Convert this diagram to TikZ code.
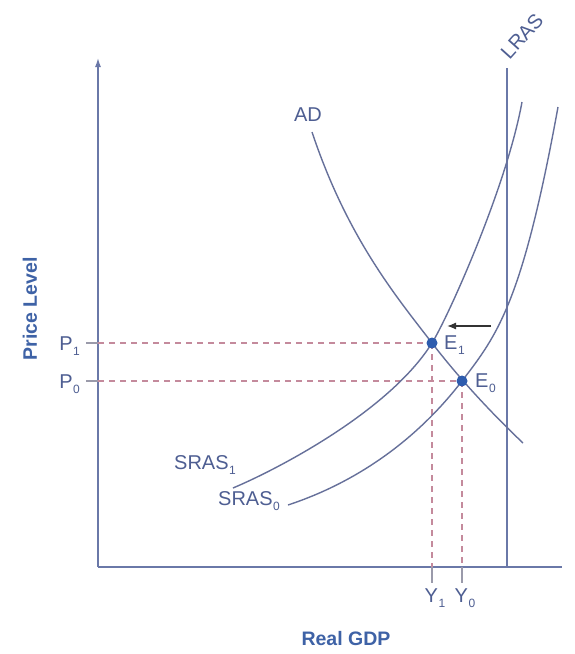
\documentclass[tikz,border=0pt]{standalone}
\usepackage{fontspec}
\setmainfont{Liberation Sans}
\usetikzlibrary{arrows.meta}
\definecolor{axisc}{HTML}{6A78A8}
\definecolor{curvec}{HTML}{66709A}
\definecolor{txtc}{HTML}{4E5E92}
\definecolor{titc}{HTML}{3E62A6}
\definecolor{dashc}{HTML}{C48A9C}
\definecolor{dotc}{HTML}{2E5CAE}
\definecolor{tickc}{HTML}{9A9AAA}
\newcommand{\lowsub}[1]{\kern0.5pt\raisebox{-5pt}{\fontsize{12}{12}\selectfont #1}}
\tikzset{
  axisline/.style={draw=axisc, line width=1.4pt},
  curve/.style={draw=curvec, line width=1.4pt},
  guide/.style={draw=dashc, line width=1.1pt, dash pattern=on 6pt off 5pt},
  lbl/.style={text=txtc, font=\fontsize{20}{22}\selectfont, inner sep=0pt},
  title/.style={text=titc, font=\bfseries\fontsize{19.5}{22}\selectfont, inner sep=0pt},
  eqdot/.style={circle, fill=dotc, minimum size=11pt, inner sep=0pt},
}
\begin{document}
\begin{tikzpicture}[x=1pt, y=-1pt]
\useasboundingbox[fill=white] (0,0) rectangle (574,654);
% axes
\coordinate (O) at (98,567);
\coordinate (Ytop) at (98,58);
\coordinate (Xend) at (562,567);
\draw[axisline, -{Latex[length=9pt,width=6pt]}] (O) -- (Ytop);
\draw[axisline] (O) -- (Xend);
% LRAS
\coordinate (Lt) at (507,68);
\coordinate (Lb) at (507,567);
\draw[axisline] (Lt) -- (Lb);
\node[lbl, rotate=48] (lras) at (522,36) {LRAS};
% equilibrium points
\coordinate (E1) at (432,343);
\coordinate (E0) at (462,381);
% guide lines
\coordinate (P1a) at (86,343);
\coordinate (P0a) at (86,381);
\coordinate (P1b) at (98,343);
\coordinate (P0b) at (98,381);
\coordinate (Y1b) at (432,583);
\coordinate (Y0b) at (462,583);
\coordinate (Y1a) at (432,567);
\coordinate (Y0a) at (462,567);
\draw[tickc, line width=1.1pt] (P1a) -- (P1b);
\draw[tickc, line width=1.1pt] (P0a) -- (P0b);
\draw[guide] (P1b) -- (E1);
\draw[guide] (P0b) -- (E0);
\draw[guide] (E1) -- (Y1a);
\draw[guide] (E0) -- (Y0a);
\draw[tickc, line width=1.1pt] (Y1a) -- (Y1b);
\draw[tickc, line width=1.1pt] (Y0a) -- (Y0b);
% curves
\draw[curve] (312,132) .. controls (347.3,237.9) and (396.7,297.1) .. (E1)
                       .. controls (461,380.7) and (494,415.5) .. (523,443);
\draw[curve] (233,488) .. controls (276,469.9) and (389,411.8) .. (E1)
                       .. controls (447.6,318) and (506.4,187.8) .. (522,102);
\draw[curve] (288,505) .. controls (342,487.2) and (408,451.2) .. (E0)
                       .. controls (497.5,334.8) and (522.5,302.3) .. (558,107);
% dots
\node[eqdot] (e1) at (E1) {};
\node[eqdot] (e0) at (E0) {};
% shift arrow
\coordinate (As) at (491,326);
\coordinate (Ae) at (447,326);
\draw[draw=black!80, line width=1.3pt, -{Latex[length=9pt,width=7pt]}] (As) -- (Ae);
% labels
\node[lbl] (ad) at (308,115) {AD};
\node[lbl, anchor=west] (e1l) at (444,345) {E\lowsub{1}};
\node[lbl, anchor=west] (e0l) at (475,383) {E\lowsub{0}};
\node[lbl, anchor=west] (s1) at (174,465) {SRAS\lowsub{1}};
\node[lbl, anchor=west] (s0) at (218,501) {SRAS\lowsub{0}};
\node[lbl, anchor=east] (p1) at (80,346) {P\lowsub{1}};
\node[lbl, anchor=east] (p0) at (80,384) {P\lowsub{0}};
\node[lbl] (y1) at (435,598) {Y\lowsub{1}};
\node[lbl] (y0) at (465,598) {Y\lowsub{0}};
\node[title, rotate=90] (pl) at (30,309) {Price Level};
\node[title] (gdp) at (346,639) {Real GDP};
\end{tikzpicture}
\end{document}
